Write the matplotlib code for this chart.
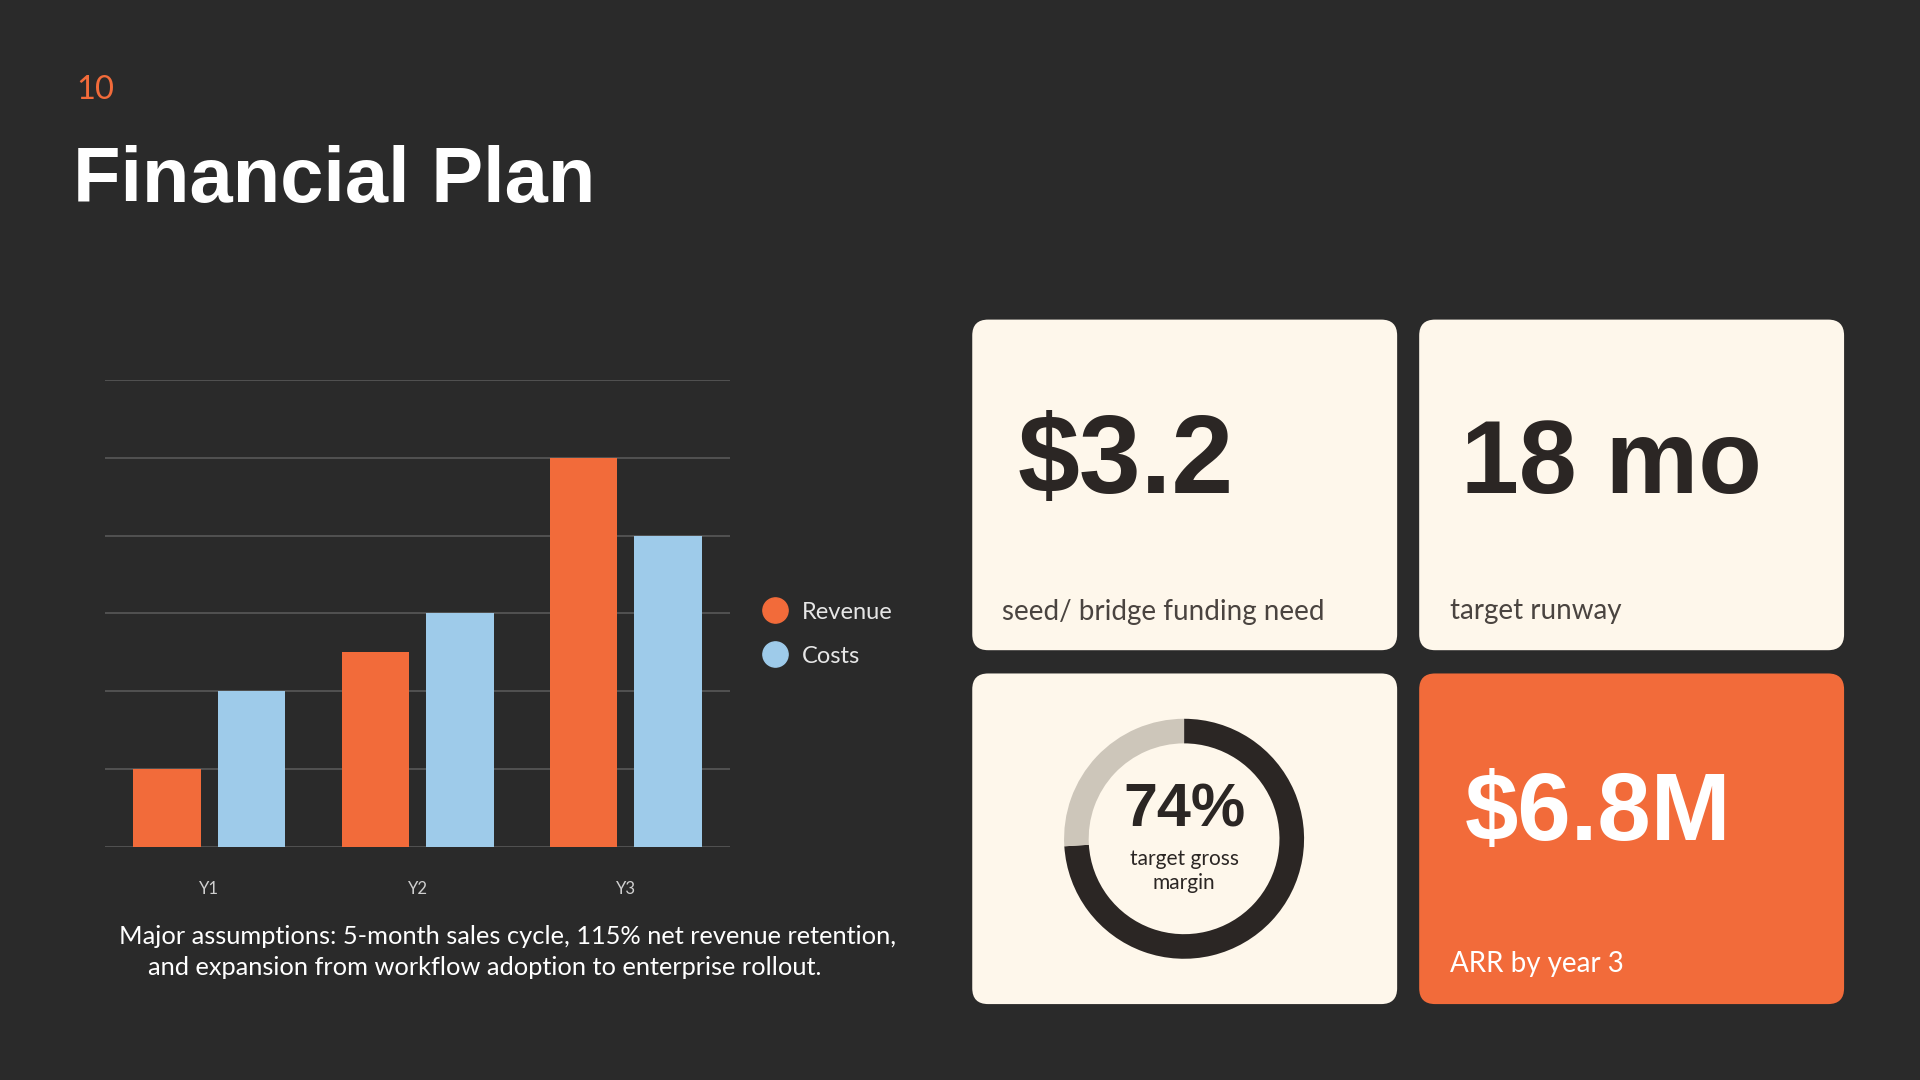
import matplotlib
matplotlib.use("Agg")
import matplotlib.pyplot as plt
from matplotlib.patches import FancyBboxPatch

# slide data
years = ["Y1", "Y2", "Y3"]
revenue = [1.0, 2.5, 5.0]
costs = [2.0, 3.0, 4.0]
series_names = ["Revenue", "Costs"]

gross_margin = 74

card_values = ["$3.2", "18 mo", "$6.8M"]
card_labels = ["seed/ bridge funding need", "target runway", "ARR by year 3"]

note_lines = [
    "Major assumptions: 5-month sales cycle, 115% net revenue retention,",
    "and expansion from workflow adoption to enterprise rollout.",
]

# colours
BG = "#2a2a2a"
ORANGE = "#f26b3a"
BLUE = "#9ecbea"
CREAM = "#fef7eb"
DARK = "#2b2624"
TRACK = "#cdc6ba"
GRID = "#555555"

# layout is worked out on a 1568 x 882 grid, saved at 1920 x 1080
W, H = 1568, 882

fig = plt.figure(figsize=(19.2, 10.8), dpi=100, facecolor=BG)

bg = fig.add_axes([0, 0, 1, 1])
bg.set_xlim(0, W)
bg.set_ylim(H, 0)
bg.axis("off")
bg.set_facecolor(BG)

# header
bg.text(62, 81, "10", color=ORANGE, fontsize=23.5, family="Lato", va="baseline")
bg.text(60, 165, "Financial Plan", color="white", fontsize=56, family="Liberation Sans",
        fontweight="bold", va="baseline")

# bar chart
ax = fig.add_axes([86 / W, (H - 692) / H, 510 / W, 382 / H])
ax.set_facecolor("none")
x = list(range(len(years)))
bw = 0.324
off = 0.203
ax.bar([i - off for i in x], revenue, width=bw, color=ORANGE, zorder=3)
ax.bar([i + off for i in x], costs, width=bw, color=BLUE, zorder=3)
ax.set_xlim(-0.5, 2.5)
ax.set_ylim(0, 6)
ax.set_yticks(range(0, 7))
ax.set_yticklabels([])
ax.grid(axis="y", color=GRID, linewidth=1.3, zorder=0)
ax.tick_params(axis="y", length=0)
ax.set_xticks(x)
ax.set_xticklabels(years, color="#cfcfcf", fontsize=12, family="Lato")
ax.tick_params(axis="x", length=0, pad=24)
for s in ax.spines.values():
    s.set_visible(False)

# legend
for k, (name, col) in enumerate(zip(series_names, [ORANGE, BLUE])):
    yy = 498 + 36 * k
    bg.scatter([633], [yy], s=330, color=col, zorder=5)
    bg.text(655, yy + 2, name, color="#e6e6e6", fontsize=17, family="Lato", va="center")

# assumptions note
bg.text(97, 765, note_lines[0], color="white", fontsize=18.3, family="Lato", va="center")
bg.text(121, 790, note_lines[1], color="white", fontsize=18.3, family="Lato", va="center")

# cards
cards = [
    (794, 261, CREAM),
    (1159, 261, CREAM),
    (794, 550, CREAM),
    (1159, 550, ORANGE),
]
for cx, cy, col in cards:
    bg.add_patch(FancyBboxPatch((cx, cy), 347, 270, boxstyle="round,pad=0,rounding_size=13",
                                facecolor=col, edgecolor="none", zorder=2))

bg.text(831, 403, card_values[0], color=DARK, fontsize=80, family="Liberation Sans",
        fontweight="bold", va="baseline", zorder=4)
bg.text(818, 500, card_labels[0], color="#4a4440", fontsize=20, family="Lato",
        va="center", zorder=4)

bg.text(1193, 403, card_values[1], color=DARK, fontsize=75, family="Liberation Sans",
        fontweight="bold", va="baseline", zorder=4)
bg.text(1184, 499, card_labels[1], color="#4a4440", fontsize=20, family="Lato",
        va="center", zorder=4)

bg.text(1196, 686, card_values[2], color="white", fontsize=69, family="Liberation Sans",
        fontweight="bold", va="baseline", zorder=4)
bg.text(1184, 787, card_labels[2], color="white", fontsize=20, family="Lato",
        va="center", zorder=4)

# donut
r = 98
dax = fig.add_axes([(967 - r) / W, (H - 685 - r) / H, 2 * r / W, 2 * r / H])
dax.pie([gross_margin, 100 - gross_margin], colors=[DARK, TRACK], startangle=90,
        counterclock=False, wedgeprops=dict(width=0.205, edgecolor="none"))
dax.set_xlim(-1, 1)
dax.set_ylim(-1, 1)
dax.set_aspect("equal")
dax.axis("off")

bg.text(967, 662, f"{gross_margin}%", color=DARK, fontsize=44, family="Liberation Sans",
        fontweight="bold", ha="center", va="center", zorder=4)
bg.text(967, 711, "target gross\nmargin", color=DARK, fontsize=15, family="Lato",
        ha="center", va="center", linespacing=1.25, zorder=4)

fig.savefig("out.png", dpi=100, facecolor=BG)
